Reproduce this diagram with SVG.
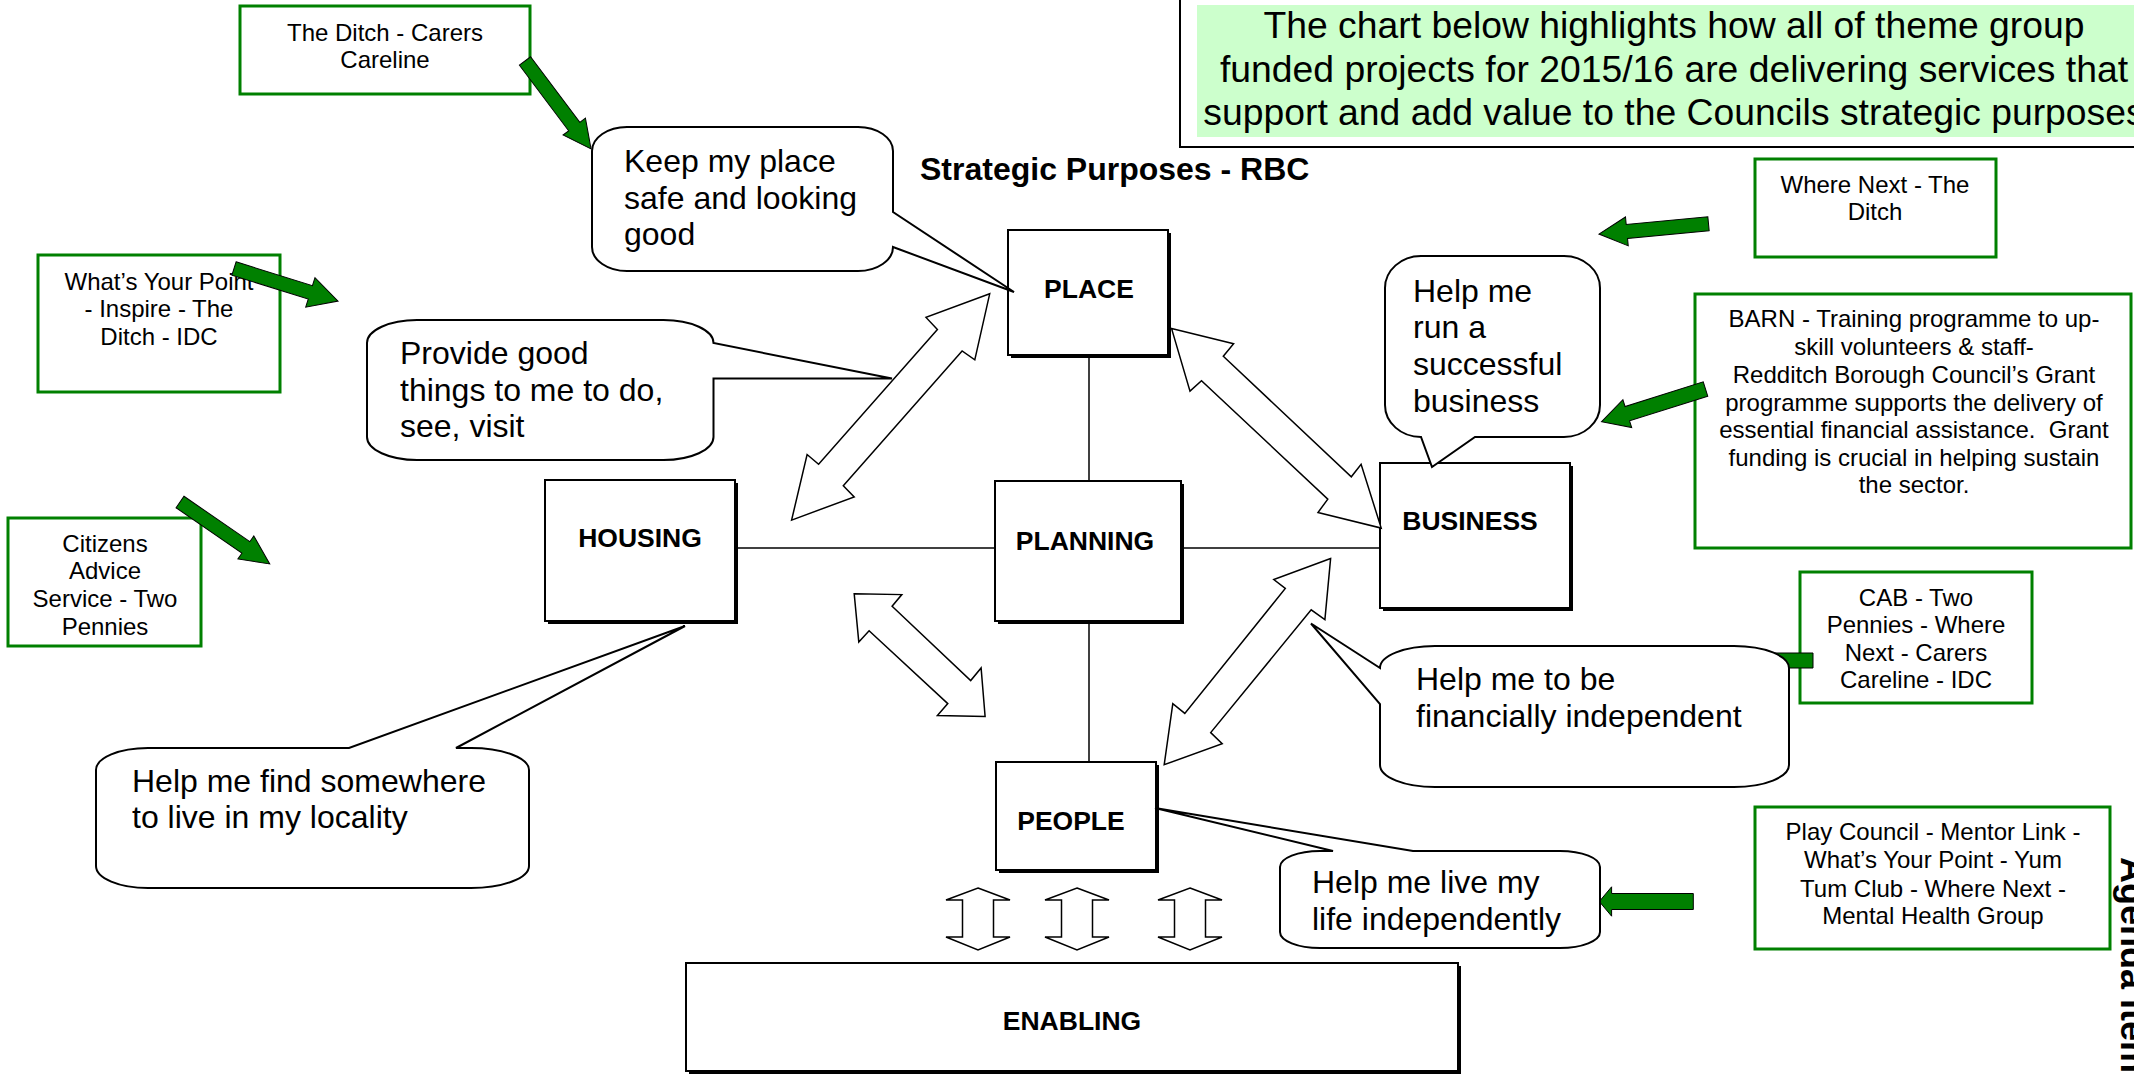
<svg xmlns="http://www.w3.org/2000/svg" width="2134" height="1080" viewBox="0 0 2134 1080">
  <style>
    text { font-family: "Liberation Sans", Arial, sans-serif; fill: #000; }
    .box { fill: #fff; stroke: #000; stroke-width: 2; }
    .shd { fill: #000; }
    .lbl { font-size: 26.5px; font-weight: bold; text-anchor: middle; }
    .gbox { fill: #fff; stroke: #008000; stroke-width: 3; }
    .gt { font-size: 24px; text-anchor: middle; }
    .callout { fill: #fff; stroke: #000; stroke-width: 2; stroke-linejoin: miter; }
    .ct { font-size: 32px; }
    .link { stroke: #000; stroke-width: 1.5; fill: none; }
    .warrow { fill: #fff; stroke: #000; stroke-width: 1.5; stroke-linejoin: miter; }
    .garrow { fill: #008000; stroke: #000; stroke-width: 1; }
    .title { font-size: 37.3px; text-anchor: middle; }
  </style>
  <defs>
    <path id="updown" d="M0,-31 L32,-19 H15.5 V18 H32 L0,31 L-32,18 H-15.5 V-19 H-32 Z"/>
  </defs>

  <rect width="2134" height="1080" fill="#fff"/>

  <!-- heading panel -->
  <g id="heading">
    <rect x="1180" y="-2" width="960" height="149" fill="none" stroke="#000" stroke-width="2"/>
    <rect x="1197" y="5" width="940" height="132" fill="#ccffcc"/>
    <text class="title" x="1674" y="38">The chart below highlights how all of theme group</text>
    <text class="title" x="1674" y="82">funded projects for 2015/16 are delivering services that</text>
    <text class="title" x="1674" y="125">support and add value to the Councils strategic purposes</text>
  </g>
  <text id="subtitle" x="920" y="180" font-size="32" font-weight="bold">Strategic Purposes - RBC</text>

  <!-- strategic purpose nodes -->
  <g id="node-place">
    <rect class="shd" x="1011" y="233" width="160" height="125"/>
    <rect class="box" x="1008" y="230" width="160" height="125"/>
    <text class="lbl" x="1089" y="298">PLACE</text>
  </g>
  <g id="node-planning">
    <rect class="shd" x="998" y="484" width="186" height="140"/>
    <rect class="box" x="995" y="481" width="186" height="140"/>
    <text class="lbl" x="1085" y="550">PLANNING</text>
  </g>
  <g id="node-housing">
    <rect class="shd" x="548" y="483" width="190" height="141"/>
    <rect class="box" x="545" y="480" width="190" height="141"/>
    <text class="lbl" x="640" y="547">HOUSING</text>
  </g>
  <g id="node-business">
    <rect class="shd" x="1383" y="466" width="190" height="145"/>
    <rect class="box" x="1380" y="463" width="190" height="145"/>
    <text class="lbl" x="1470" y="530">BUSINESS</text>
  </g>
  <g id="node-people">
    <rect class="shd" x="999" y="765" width="160" height="108"/>
    <rect class="box" x="996" y="762" width="160" height="108"/>
    <text class="lbl" x="1071" y="830">PEOPLE</text>
  </g>
  <g id="node-enabling">
    <rect class="shd" x="689" y="966" width="772" height="108"/>
    <rect class="box" x="686" y="963" width="772" height="108"/>
    <text class="lbl" x="1072" y="1030">ENABLING</text>
  </g>

  <!-- funded project boxes -->
  <g id="proj-ditch">
    <rect class="gbox" x="240" y="6" width="290" height="88"/>
    <text class="gt" x="385" y="41">The Ditch - Carers</text>
    <text class="gt" x="385" y="68">Careline</text>
  </g>
  <g id="proj-whats-your-point">
    <rect class="gbox" x="38" y="255" width="242" height="137"/>
    <text class="gt" x="159" y="290">What’s Your Point</text>
    <text class="gt" x="159" y="317">- Inspire - The</text>
    <text class="gt" x="159" y="345">Ditch - IDC</text>
  </g>
  <g id="proj-citizens-advice">
    <rect class="gbox" x="8" y="518" width="193" height="128"/>
    <text class="gt" x="105" y="552">Citizens</text>
    <text class="gt" x="105" y="579">Advice</text>
    <text class="gt" x="105" y="607">Service - Two</text>
    <text class="gt" x="105" y="635">Pennies</text>
  </g>
  <g id="proj-where-next">
    <rect class="gbox" x="1755" y="159" width="241" height="98"/>
    <text class="gt" x="1875" y="193">Where Next - The</text>
    <text class="gt" x="1875" y="220">Ditch</text>
  </g>
  <g id="proj-barn">
    <rect class="gbox" x="1695" y="294" width="436" height="254"/>
    <text class="gt" x="1914" y="327">BARN - Training programme to up-</text>
    <text class="gt" x="1914" y="355">skill volunteers &amp; staff-</text>
    <text class="gt" x="1914" y="383">Redditch Borough Council’s Grant</text>
    <text class="gt" x="1914" y="411">programme supports the delivery of</text>
    <text class="gt" x="1914" y="438" xml:space="preserve">essential financial assistance.  Grant</text>
    <text class="gt" x="1914" y="466">funding is crucial in helping sustain</text>
    <text class="gt" x="1914" y="493">the sector.</text>
  </g>
  <g id="proj-cab">
    <rect class="gbox" x="1800" y="572" width="232" height="131"/>
    <text class="gt" x="1916" y="606">CAB - Two</text>
    <text class="gt" x="1916" y="633">Pennies - Where</text>
    <text class="gt" x="1916" y="661">Next - Carers</text>
    <text class="gt" x="1916" y="688">Careline - IDC</text>
  </g>
  <g id="proj-play-council">
    <rect class="gbox" x="1755" y="807" width="355" height="142"/>
    <text class="gt" x="1933" y="840">Play Council - Mentor Link -</text>
    <text class="gt" x="1933" y="868">What’s Your Point - Yum</text>
    <text class="gt" x="1933" y="897">Tum Club - Where Next -</text>
    <text class="gt" x="1933" y="924">Mental Health Group</text>
  </g>

  <!-- connectors -->
  <g id="connectors">
    <line class="link" x1="1089" y1="355" x2="1089" y2="481"/>
    <line class="link" x1="1089" y1="621" x2="1089" y2="762"/>
    <line class="link" x1="735" y1="548" x2="995" y2="548"/>
    <line class="link" x1="1181" y1="548" x2="1380" y2="548"/>

    <polygon class="warrow" points="989.7,293.8 926,317.4 937.4,329.5 818.6,464.3 807.1,454.5 791.6,520.1 854.2,496.9 843.3,485.7 962.1,350.9 974.8,359.8"/>
    <polygon class="warrow" points="1171.6,328.6 1233.6,343.8 1223.3,356.3 1351.3,476.8 1361.1,464.3 1381.2,528.1 1318,512.5 1327.8,499.1 1201.5,380.8 1190,391.1"/>
    <polygon class="warrow" points="854.2,593.8 901.8,594.6 892.1,606.3 970.7,680.6 981.1,667.9 985.1,716.5 937.4,715.6 947.8,703.6 869.1,630.8 858.8,642"/>
    <polygon class="warrow" points="1330.6,558.5 1273.8,579.5 1285.3,588.4 1184.8,713.4 1172.8,703.6 1164.2,764.7 1222.2,743.8 1210.7,732.6 1311.2,609.8 1324.9,619.6"/>

    <use href="#updown" class="warrow" transform="translate(978,919)"/>
    <use href="#updown" class="warrow" transform="translate(1077,919)"/>
    <use href="#updown" class="warrow" transform="translate(1190,919)"/>

    <polygon class="garrow" transform="translate(525,61) rotate(53.1)" points="0,-7 82,-7 82,-14 110,0 82,14 82,7 0,7"/>
    <polygon class="garrow" transform="translate(234,268.5) rotate(17.4)" points="0,-7 80,-7 80,-15.5 109,0 80,15.5 80,7 0,7"/>
    <polygon class="garrow" transform="translate(180,502) rotate(34.6)" points="0,-7 80,-7 80,-14 109,0 80,14 80,7 0,7"/>
    <polygon class="garrow" transform="translate(1708.5,223.7) rotate(174.6)" points="0,-7 82,-7 82,-14.5 110,0 82,14.5 82,7 0,7"/>
    <polygon class="garrow" transform="translate(1705.5,389) rotate(162.5)" points="0,-7.5 82,-7.5 82,-14.6 109,0 82,14.6 82,7.5 0,7.5"/>
    <polygon class="garrow" transform="translate(1813,660.5) rotate(180)" points="0,-7.5 88,-7.5 88,-13 113,0 88,13 88,7.5 0,7.5"/>
    <polygon class="garrow" transform="translate(1693.3,901.5) rotate(180)" points="0,-8 81.7,-8 81.7,-14.7 94,0 81.7,14.7 81.7,8 0,8"/>
  </g>

  <!-- speech callouts -->
  <g id="callout-place">
    <path class="callout" d="M627,127 H858 A35 24 0 0 1 893,151 V212 L1014,292 L893,247 A35 24 0 0 1 858,271 H627 A35 24 0 0 1 592,247 V151 A35 24 0 0 1 627,127 Z"/>
    <text class="ct" x="624" y="172">Keep my place</text>
    <text class="ct" x="624" y="208.5">safe and looking</text>
    <text class="ct" x="624" y="245">good</text>
  </g>
  <g id="callout-things-to-do">
    <path class="callout" d="M417,320 H663.5 A50 23 0 0 1 713.5,343 L892,378.6 L713.5,378.6 V437 A50 23 0 0 1 663.5,460 H417 A50 23 0 0 1 367,437 V343 A50 23 0 0 1 417,320 Z"/>
    <text class="ct" x="400" y="364">Provide good</text>
    <text class="ct" x="400" y="400.5">things to me to do,</text>
    <text class="ct" x="400" y="437">see, visit</text>
  </g>
  <g id="callout-housing">
    <path class="callout" d="M148,748 H349 L685,626 L456,748 H471 A58 22 0 0 1 529,770 V866 A58 22 0 0 1 471,888 H148 A52 22 0 0 1 96,866 V770 A52 22 0 0 1 148,748 Z"/>
    <text class="ct" x="132" y="792">Help me find somewhere</text>
    <text class="ct" x="132" y="828">to live in my locality</text>
  </g>
  <g id="callout-business">
    <path class="callout" d="M1421,256 H1564 A36 32 0 0 1 1600,288 V405 A36 32 0 0 1 1564,437 H1475 L1432,467 L1421,437 A36 32 0 0 1 1385,405 V288 A36 32 0 0 1 1421,256 Z"/>
    <text class="ct" x="1413" y="302">Help me</text>
    <text class="ct" x="1413" y="338">run a</text>
    <text class="ct" x="1413" y="375">successful</text>
    <text class="ct" x="1413" y="412">business</text>
  </g>
  <g id="callout-financial">
    <path class="callout" d="M1435,646 H1734 A55 22 0 0 1 1789,668 V765 A55 22 0 0 1 1734,787 H1435 A55 22 0 0 1 1380,765 V704 L1311,623.5 L1380,668 A55 22 0 0 1 1435,646 Z"/>
    <text class="ct" x="1416" y="690">Help me to be</text>
    <text class="ct" x="1416" y="727">financially independent</text>
  </g>
  <g id="callout-people">
    <path class="callout" d="M1320,851 H1333 L1155,808 L1413,851 H1560 A40 16 0 0 1 1600,867 V932 A40 16 0 0 1 1560,948 H1320 A40 16 0 0 1 1280,932 V867 A40 16 0 0 1 1320,851 Z"/>
    <text class="ct" x="1312" y="893">Help me live my</text>
    <text class="ct" x="1312" y="930">life independently</text>
  </g>

  <!-- margin marker, running off the page edge -->
  <text id="margin-note" transform="translate(2121,857) rotate(90)" font-size="36" font-weight="bold">Agenda Item</text>
</svg>
